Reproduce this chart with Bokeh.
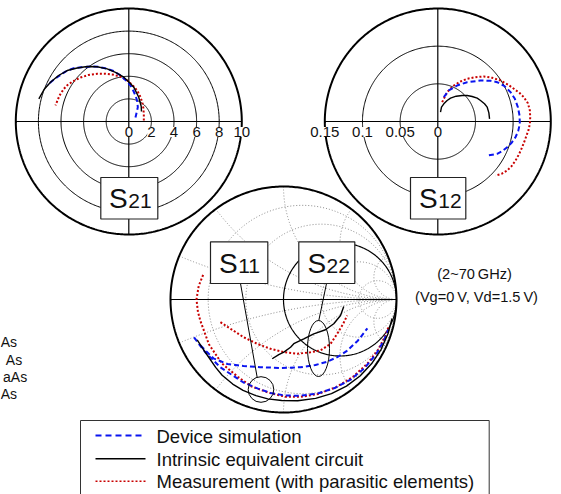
import numpy as np
from bokeh.plotting import figure
from bokeh.models import Range1d
from bokeh.core.properties import value
from bokeh.embed import file_html
from bokeh.resources import INLINE

# ------------------------------------------------------------------ data
# S21 polar plot (linear magnitude units)
S21_RING_VALUES = [2, 4, 6, 8, 10]
S21_TICK_VALUES = [0, 2, 4, 6, 8, 10]
S21_TICK_LABELS = ["0", "2", "4", "6", "8", "10"]
S21_SIM_RE = [0.59, 0.80, 0.73, 0.59, 0.37, 0.15, -0.29, -0.73, -1.35, -1.91, -2.68, -3.39, -4.19, -4.87, -5.60, -6.34, -6.84, -7.22]
S21_SIM_IM = [0.35, 1.27, 1.86, 2.30, 2.79, 3.19, 3.67, 4.07, 4.47, 4.66, 4.84, 4.87, 4.80, 4.72, 4.42, 3.92, 3.54, 3.19]
S21_EQC_RE = [1.12, 1.10, 0.88, 0.44, -0.03, -0.44, -1.18, -1.91, -2.80, -3.68, -4.57, -5.45, -6.22, -6.93, -7.50, -7.96]
S21_EQC_IM = [0.88, 1.33, 2.15, 3.04, 3.54, 3.92, 4.34, 4.66, 4.84, 4.87, 4.73, 4.51, 4.07, 3.48, 2.83, 2.01]
S21_MEAS_RE = [1.33, 1.33, 1.28, 1.19, 0.99, 0.74, 0.33, -0.14, -0.73, -1.33, -2.06, -2.80, -3.57, -4.27, -4.98, -5.42, -5.75, -6.13, -6.49]
S21_MEAS_IM = [0.09, 0.68, 1.24, 1.71, 2.26, 2.74, 3.23, 3.63, 3.96, 4.13, 4.22, 4.22, 4.12, 3.89, 3.54, 3.23, 2.89, 2.30, 1.42]

# S12 polar plot
S12_RING_VALUES = [0.05, 0.1, 0.15]
S12_TICK_VALUES = [0.15, 0.1, 0.05, 0]
S12_TICK_LABELS = ["0.15", "0.1", "0.05", "0"]
S12_SIM_RE = [0.0080, 0.0146, 0.0257, 0.0390, 0.0567, 0.0700, 0.0788, 0.0886, 0.0965, 0.1023, 0.1063, 0.1085, 0.1089, 0.1067, 0.1032, 0.0979, 0.0921, 0.0855, 0.0788, 0.0664]
S12_SIM_IM = [0.0323, 0.0412, 0.0478, 0.0522, 0.0544, 0.0540, 0.0522, 0.0469, 0.0390, 0.0301, 0.0190, 0.0080, -0.0031, -0.0128, -0.0208, -0.0283, -0.0341, -0.0394, -0.0429, -0.0452]
S12_EQC_RE = [0.0036, 0.0049, 0.0080, 0.0124, 0.0169, 0.0244, 0.0324, 0.0390, 0.0456, 0.0523, 0.0567, 0.0620, 0.0656, 0.0678, 0.0687]
S12_EQC_IM = [0.0124, 0.0190, 0.0235, 0.0279, 0.0310, 0.0336, 0.0345, 0.0345, 0.0332, 0.0310, 0.0279, 0.0235, 0.0190, 0.0115, 0.0035]
S12_MEAS_RE = [0.0058, 0.0124, 0.0213, 0.0301, 0.0390, 0.0501, 0.0611, 0.0722, 0.0833, 0.0930, 0.1010, 0.1089, 0.1142, 0.1196, 0.1222, 0.1227, 0.1222, 0.1205, 0.1178, 0.1151, 0.1120, 0.1081, 0.1032, 0.0979, 0.0921, 0.0846, 0.0766]
S12_MEAS_IM = [0.0257, 0.0390, 0.0478, 0.0531, 0.0567, 0.0589, 0.0598, 0.0580, 0.0544, 0.0491, 0.0434, 0.0376, 0.0323, 0.0243, 0.0146, 0.0058, -0.0031, -0.0111, -0.0186, -0.0261, -0.0341, -0.0429, -0.0518, -0.0593, -0.0651, -0.0695, -0.0717]

# S11 / S22 on the Smith chart (magnitude, angle in degrees)
S11_SIM_MAG = [0.86, 0.845, 0.835, 0.82, 0.815, 0.82, 0.835, 0.85, 0.865, 0.885, 0.905, 0.925, 0.94, 0.952, 0.96, 0.965]
S11_SIM_ANG = [-157, -152, -146, -133, -116, -106, -98, -89, -80, -70, -60, -50, -40, -30, -22, -16]
S11_EQC_MAG = [0.843, 0.835, 0.849, 0.863, 0.873, 0.88, 0.885, 0.89, 0.894, 0.905, 0.92, 0.935, 0.948, 0.958, 0.965, 0.97, 0.973, 0.975]
S11_EQC_ANG = [-155, -146, -135, -129, -121, -114, -106, -99, -91, -82, -72, -63, -54, -45, -36, -27, -18, -10]
S11_MEAS_MAG = [0.744, 0.76, 0.77, 0.765, 0.76, 0.77, 0.786, 0.796, 0.82, 0.835, 0.86, 0.875, 0.89, 0.905, 0.92, 0.935, 0.948, 0.956, 0.96]
S11_MEAS_ANG = [-197, -189, -180, -172, -166, -149, -134, -120, -110, -99, -89, -80, -70, -59, -48, -37, -28, -20, -15]

S22_SIM_MAG = [0.84, 0.81, 0.756, 0.687, 0.633, 0.607, 0.618, 0.645, 0.672, 0.698, 0.722, 0.752, 0.785]
S22_SIM_ANG = [-151, -140, -131, -121, -109, -92, -76, -64, -55, -47, -39, -29, -19]
S22_EQC_MAG = [0.537, 0.524, 0.494, 0.458, 0.405, 0.392, 0.402, 0.427, 0.466, 0.489, 0.534]
S22_EQC_ANG = [-6.6, -15.7, -25.8, -35.8, -48.6, -62.7, -76.9, -81.6, -89.6, -94.9, -100.8]
S22_MEAS_MAG = [0.593, 0.536, 0.485, 0.456, 0.451, 0.466, 0.496, 0.524, 0.557, 0.572, 0.564, 0.570, 0.581]
S22_MEAS_ANG = [-160.2, -151.1, -136.4, -120.7, -104.8, -89.6, -75.8, -62.9, -54, -43.3, -32.6, -22.2, -14.1]

SMITH_R_CIRCLES = [0.2, 0.5, 2, 5]
SMITH_X_ARCS = [0.2, 0.5, 1, 2, 5]

BOX_SUBSCRIPTS = ["21", "12", "11", "22"]
LEGEND_LABELS = ["Device simulation", "Intrinsic equivalent circuit", "Measurement (with parasitic elements)"]
COND_LABELS = ["(2~70\u2009GHz)", "(Vg=0\u2009V, Vd=1.5\u2009V)"]
SIDE_FRAGMENTS = ["As", "As", "aAs", "As"]

# ------------------------------------------------------------------ styles / layout
FONT = value("Liberation Sans")
BLUE = "#0a14f0"
RED = "#c80000"
BLACK = "#000000"
GRIDC = "#8a8a8a"
TXT = "#111111"
SIM_STYLE = dict(line_color=BLUE, line_width=2, line_dash="5 3")
EQC_STYLE = dict(line_color=BLACK, line_width=1.4)
MEAS_STYLE = dict(line_color=RED, line_width=2, line_dash="2 2")

P21 = (128.3, 121.0, 113.0)   # centre x, centre y, radius (page px)
P12 = (437.3, 121.0, 113.0)
SM = (283.0, 299.0, 113.0)

p = figure(width=561, height=494, x_range=Range1d(0, 561), y_range=Range1d(494, 0),
           output_backend="svg", toolbar_location=None, min_border=0,
           x_axis_type=None, y_axis_type=None)
p.grid.visible = False
p.outline_line_color = None

T = np.linspace(0, 2 * np.pi, 400)


def polar_panel(panel, rings, rmax, tick_vals, tick_labels, side):
    cx, cy, R = panel
    for rv in rings:
        rr = R * rv / rmax
        p.line(cx + rr * np.cos(T), cy + rr * np.sin(T), line_color=BLACK,
               line_width=2 if rv == rmax else 1)
    p.line([cx - R, cx + R], [cy, cy], line_color=BLACK, line_width=1.2)
    p.line([cx, cx], [cy - R, cy + R], line_color=BLACK, line_width=1.2)
    xs = [cx + side * R * v / rmax for v in tick_vals]
    p.text(xs, [cy + 10.5] * len(xs), text=tick_labels, text_align="center",
           text_baseline="middle", text_font=FONT, text_font_size="15px",
           text_color=TXT, background_fill_color="white")


def polar_curve(panel, rmax, re, im, style):
    cx, cy, R = panel
    k = R / rmax
    p.line(cx + k * np.asarray(re), cy - k * np.asarray(im), **style)


def smith_curve(mag, ang, style):
    cx, cy, R = SM
    a = np.radians(np.asarray(ang, dtype=float))
    m = np.asarray(mag, dtype=float)
    p.line(cx + R * m * np.cos(a), cy - R * m * np.sin(a), **style)


# ---- S21 panel
polar_panel(P21, S21_RING_VALUES, 10, S21_TICK_VALUES, S21_TICK_LABELS, +1)
polar_curve(P21, 10, S21_MEAS_RE, S21_MEAS_IM, MEAS_STYLE)
polar_curve(P21, 10, S21_SIM_RE, S21_SIM_IM, SIM_STYLE)
polar_curve(P21, 10, S21_EQC_RE, S21_EQC_IM, EQC_STYLE)

# ---- S12 panel
polar_panel(P12, S12_RING_VALUES, 0.15, S12_TICK_VALUES, S12_TICK_LABELS, -1)
polar_curve(P12, 0.15, S12_MEAS_RE, S12_MEAS_IM, MEAS_STYLE)
polar_curve(P12, 0.15, S12_SIM_RE, S12_SIM_IM, SIM_STYLE)
polar_curve(P12, 0.15, S12_EQC_RE, S12_EQC_IM, EQC_STYLE)

# ---- Smith chart grid
scx, scy, sR = SM
for r in SMITH_R_CIRCLES:
    c, rad = r / (1 + r), 1 / (1 + r)
    p.line(scx + sR * (c + rad * np.cos(T)), scy - sR * rad * np.sin(T),
           line_color=GRIDC, line_width=1, line_dash="1 2")
rr = np.concatenate([[0.0], np.geomspace(1e-3, 2e3, 400)])
for xv in SMITH_X_ARCS:
    for sgn in (1, -1):
        z = rr + 1j * sgn * xv
        g = (z - 1) / (z + 1)
        p.line(scx + sR * g.real, scy - sR * g.imag, line_color=GRIDC,
               line_width=1, line_dash="1 2")
p.line(scx + sR * (0.5 + 0.5 * np.cos(T)), scy - sR * 0.5 * np.sin(T),
       line_color=BLACK, line_width=1.2)
p.line([scx - sR, scx + sR], [scy, scy], line_color=BLACK, line_width=1.2)
p.line(scx + sR * np.cos(T), scy + sR * np.sin(T), line_color=BLACK, line_width=2)

smith_curve(S22_MEAS_MAG, S22_MEAS_ANG, MEAS_STYLE)
smith_curve(S11_MEAS_MAG, S11_MEAS_ANG, MEAS_STYLE)
smith_curve(S22_SIM_MAG, S22_SIM_ANG, SIM_STYLE)
smith_curve(S11_SIM_MAG, S11_SIM_ANG, SIM_STYLE)
smith_curve(S22_EQC_MAG, S22_EQC_ANG, EQC_STYLE)
smith_curve(S11_EQC_MAG, S11_EQC_ANG, EQC_STYLE)

# ---- callout pointers and markers
p.line([240.0, 256.7], [283.0, 377.0], line_color=BLACK, line_width=1)
p.line([326.0, 318.3], [283.0, 320.0], line_color=BLACK, line_width=1)
p.ellipse([260.5], [389.0], width=[25.6], height=[25.6], fill_color=None,
          line_color=BLACK, line_width=1)
p.ellipse([318.0], [348.0], width=[22.0], height=[56.0], fill_color=None,
          line_color=BLACK, line_width=1)

# ---- label boxes  (left, right, top, bottom, S x, sub x, baseline)
BOX_GEOM = [(100.3, 157.3, 177.0, 218.5, 108.6, 127.7, 207.5),
            (410.0, 465.3, 177.0, 218.5, 418.6, 437.7, 207.5),
            (210.0, 267.3, 241.3, 283.0, 218.6, 237.7, 272.8),
            (298.3, 354.3, 241.3, 283.0, 306.9, 326.1, 272.8)]
for (l, r_, t, b, sx, dx, bl), sub in zip(BOX_GEOM, BOX_SUBSCRIPTS):
    p.quad(left=[l], right=[r_], top=[t], bottom=[b], fill_color="white",
           line_color="#222222", line_width=1.2)
    p.text([sx], [bl - 10.0], text=["S"], text_font=FONT, text_font_size="28px",
           text_baseline="middle", text_align="left", text_color=TXT)
    p.text([dx], [bl - 7.5], text=[sub], text_font=FONT, text_font_size="21px",
           text_baseline="middle", text_align="left", text_color=TXT)

# ---- condition text
p.text([474.0, 476.0], [273.0, 296.5], text=COND_LABELS, text_font=FONT,
       text_font_size="14.6px", text_align="center", text_baseline="middle",
       text_color=TXT)

# ---- fragments from the neighbouring figure
p.text([16.5, 21.7, 26.7, 16.5], [341.7, 359.0, 376.0, 393.3], text=SIDE_FRAGMENTS,
       text_font=FONT, text_font_size="14px", text_align="right",
       text_baseline="middle", text_color=TXT)

# ---- legend
p.quad(left=[80.0], right=[488.7], top=[420.0], bottom=[500.0], fill_color="white",
       line_color="#333333", line_width=1)
leg_y = [435.0, 458.3, 480.7]
leg_styles = [dict(line_color=BLUE, line_width=2, line_dash="6 4"),
              dict(line_color=BLACK, line_width=1.4),
              dict(line_color=RED, line_width=1.6, line_dash="2 2")]
for yy, st in zip(leg_y, leg_styles):
    p.line([95.0, 145.0], [yy, yy], **st)
p.text([156.0] * 3, [y + 0.5 for y in leg_y], text=LEGEND_LABELS, text_font=FONT,
       text_font_size="18.5px", text_align="left", text_baseline="middle",
       text_color=TXT)

open("out.html", "w").write(file_html(p, INLINE))
